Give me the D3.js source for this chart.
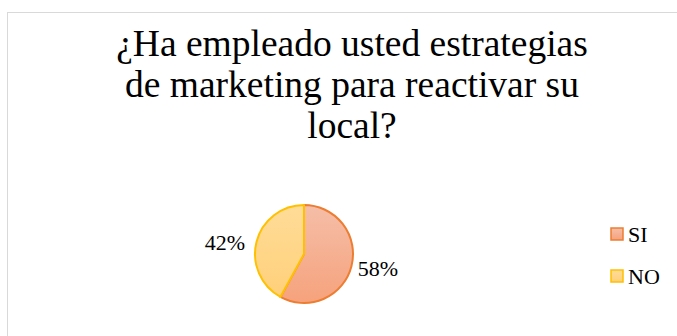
<!DOCTYPE html>
<html>
<head>
<meta charset="utf-8">
<script src="https://cdn.jsdelivr.net/npm/d3@7"></script>
<style>
  html, body { margin: 0; padding: 0; background: #fff; }
  svg { display: block; }
  text { font-family: "Liberation Serif", "Times New Roman", "DejaVu Serif", serif; }
</style>
</head>
<body>
<svg id="chart" width="677" height="336"></svg>
<script>
// Survey answers
const categories = ["SI", "NO"];
const values = [58, 42];
const titleLines = ["¿Ha empleado usted estrategias", "de marketing para reactivar su", "local?"];

const fillTop = ["#f5bea8", "#ffdc98"];
const fillBottom = ["#f6a27c", "#ffd07a"];
const strokeColors = ["#ed7d31", "#ffc000"];

const svg = d3.select("#chart");

// Chart area frame
svg.append("rect")
  .attr("x", 7.5).attr("y", 12.5)
  .attr("width", 700).attr("height", 340)
  .attr("fill", "#fff")
  .attr("stroke", "#d9d9d9")
  .attr("stroke-width", 1);

// Title
const title = svg.append("text")
  .attr("font-size", 37.5)
  .attr("fill", "#000")
  .attr("text-anchor", "middle");
title.selectAll("tspan")
  .data(titleLines)
  .join("tspan")
  .attr("x", 352)
  .attr("y", (d, i) => 56 + i * 41)
  .text(d => d);

// Gradients for slices
const defs = svg.append("defs");
categories.forEach((c, i) => {
  const g = defs.append("linearGradient")
    .attr("id", "grad" + i)
    .attr("x1", 0).attr("y1", 0).attr("x2", 0).attr("y2", 1);
  g.append("stop").attr("offset", "0%").attr("stop-color", fillTop[i]);
  g.append("stop").attr("offset", "100%").attr("stop-color", fillBottom[i]);
});

// Pie
const cx = 304, cy = 254, r = 49;
const pie = d3.pie().sort(null).value(d => d)(values);
const arc = d3.arc().innerRadius(0).outerRadius(r);
const pieG = svg.append("g").attr("transform", `translate(${cx},${cy})`);

pieG.selectAll("path")
  .data(pie)
  .join("path")
  .attr("d", arc)
  .attr("fill", (d, i) => `url(#grad${i})`)
  .attr("stroke", (d, i) => strokeColors[i])
  .attr("stroke-width", 2)
  .attr("stroke-linejoin", "round");

// Percentage labels outside the slices
const labelPos = [[378, 276], [225, 250]];
pieG.selectAll("text.pct")
  .data(pie)
  .join("text")
  .attr("class", "pct")
  .attr("x", (d, i) => labelPos[i][0] - cx)
  .attr("y", (d, i) => labelPos[i][1] - cy)
  .attr("text-anchor", "middle")
  .attr("font-size", 22)
  .attr("fill", "#000")
  .text(d => d.data + "%");

// Legend
const legend = svg.append("g");
const items = legend.selectAll("g")
  .data(categories)
  .join("g")
  .attr("transform", (d, i) => `translate(610, ${227 + i * 42})`);

items.append("rect")
  .attr("x", 1).attr("y", 1)
  .attr("width", 12).attr("height", 12)
  .attr("fill", (d, i) => `url(#grad${i})`)
  .attr("stroke", (d, i) => strokeColors[i])
  .attr("stroke-width", 1.5);

items.append("text")
  .attr("x", 18)
  .attr("y", 15)
  .attr("font-size", 22)
  .attr("fill", "#000")
  .text(d => d);
</script>
</body>
</html>
